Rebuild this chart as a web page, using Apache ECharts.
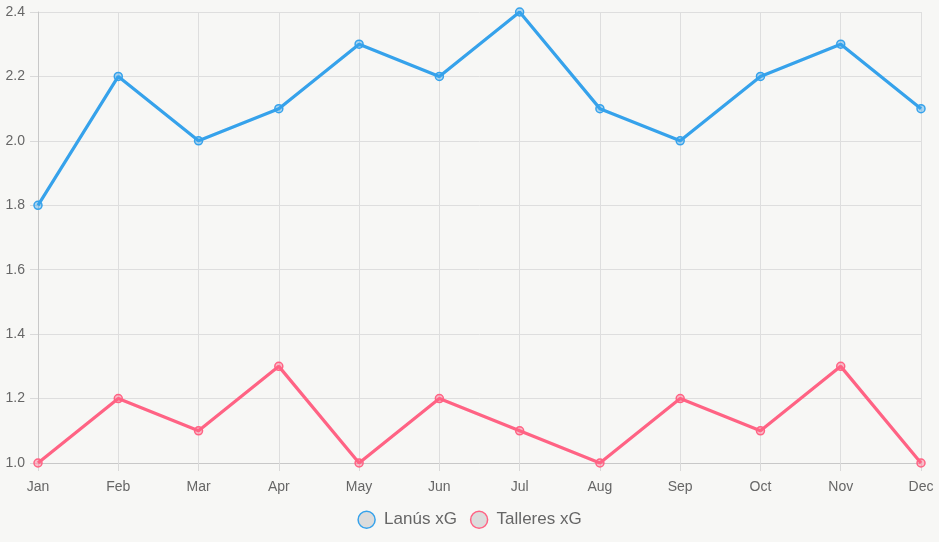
<!DOCTYPE html>
<html>
<head>
<meta charset="utf-8">
<script src="https://cdn.jsdelivr.net/npm/echarts@6/dist/echarts.min.js"></script>
<style>
  html, body { margin: 0; padding: 0; background: #f7f7f5; }
  #chart { width: 939px; height: 542px; }
</style>
</head>
<body>
<div id="chart"></div>
<script>
const months = ["Jan", "Feb", "Mar", "Apr", "May", "Jun", "Jul", "Aug", "Sep", "Oct", "Nov", "Dec"];
const lanusXG = [1.8, 2.2, 2.0, 2.1, 2.3, 2.2, 2.4, 2.1, 2.0, 2.2, 2.3, 2.1];
const talleresXG = [1.0, 1.2, 1.1, 1.3, 1.0, 1.2, 1.1, 1.0, 1.2, 1.1, 1.3, 1.0];

const blue = "#36a2eb";
const red = "#ff6384";
const font = "'Liberation Sans', Arial, sans-serif";

const chart = echarts.init(document.getElementById("chart"));

function lineSeries(name, data, color, fill) {
  return {
    name: name,
    type: "line",
    data: data,
    symbol: "circle",
    symbolSize: 8,
    showAllSymbol: true,
    lineStyle: { color: color, width: 3.2 },
    itemStyle: { color: fill, borderColor: color, borderWidth: 1.5 },
    emphasis: { disabled: true },
    z: 3,
  };
}

chart.setOption({
  backgroundColor: "#f7f7f5",
  animation: false,
  textStyle: { fontFamily: font },
  grid: { left: 38, right: 18, top: 12, bottom: 79, containLabel: false },
  legend: {
    bottom: 8,
    left: "center",
    icon: "circle",
    itemWidth: 17,
    itemHeight: 17,
    itemGap: 13,
    textStyle: { color: "#666", fontSize: 17, fontFamily: font, padding: [0, 0, 0, 4] },
    data: [
      { name: "Lanús xG", itemStyle: { color: "#dcdcdc", borderColor: blue, borderWidth: 1.5 } },
      { name: "Talleres xG", itemStyle: { color: "#dcdcdc", borderColor: red, borderWidth: 1.5 } },
    ],
  },
  xAxis: {
    type: "category",
    boundaryGap: false,
    data: months,
    axisLine: { lineStyle: { color: "#c8c8c8" } },
    axisTick: { show: true, length: 8, lineStyle: { color: "#d9d9d9" } },
    axisLabel: { color: "#666", fontSize: 14, margin: 17, fontFamily: font },
    splitLine: { show: true, lineStyle: { color: "#dedede" } },
  },
  yAxis: {
    type: "value",
    min: 1.0,
    max: 2.4,
    interval: 0.2,
    axisLine: { show: true, lineStyle: { color: "#c8c8c8" } },
    axisTick: { show: true, length: 8, lineStyle: { color: "#d9d9d9" } },
    axisLabel: {
      color: "#666",
      fontSize: 14,
      margin: 13,
      fontFamily: font,
      formatter: v => v.toFixed(1),
    },
    splitLine: { show: true, lineStyle: { color: "#dedede" } },
  },
  series: [
    lineSeries("Lanús xG", lanusXG, blue, "rgba(54,162,235,0.4)"),
    lineSeries("Talleres xG", talleresXG, red, "rgba(255,99,132,0.4)"),
  ],
});
</script>
</body>
</html>
